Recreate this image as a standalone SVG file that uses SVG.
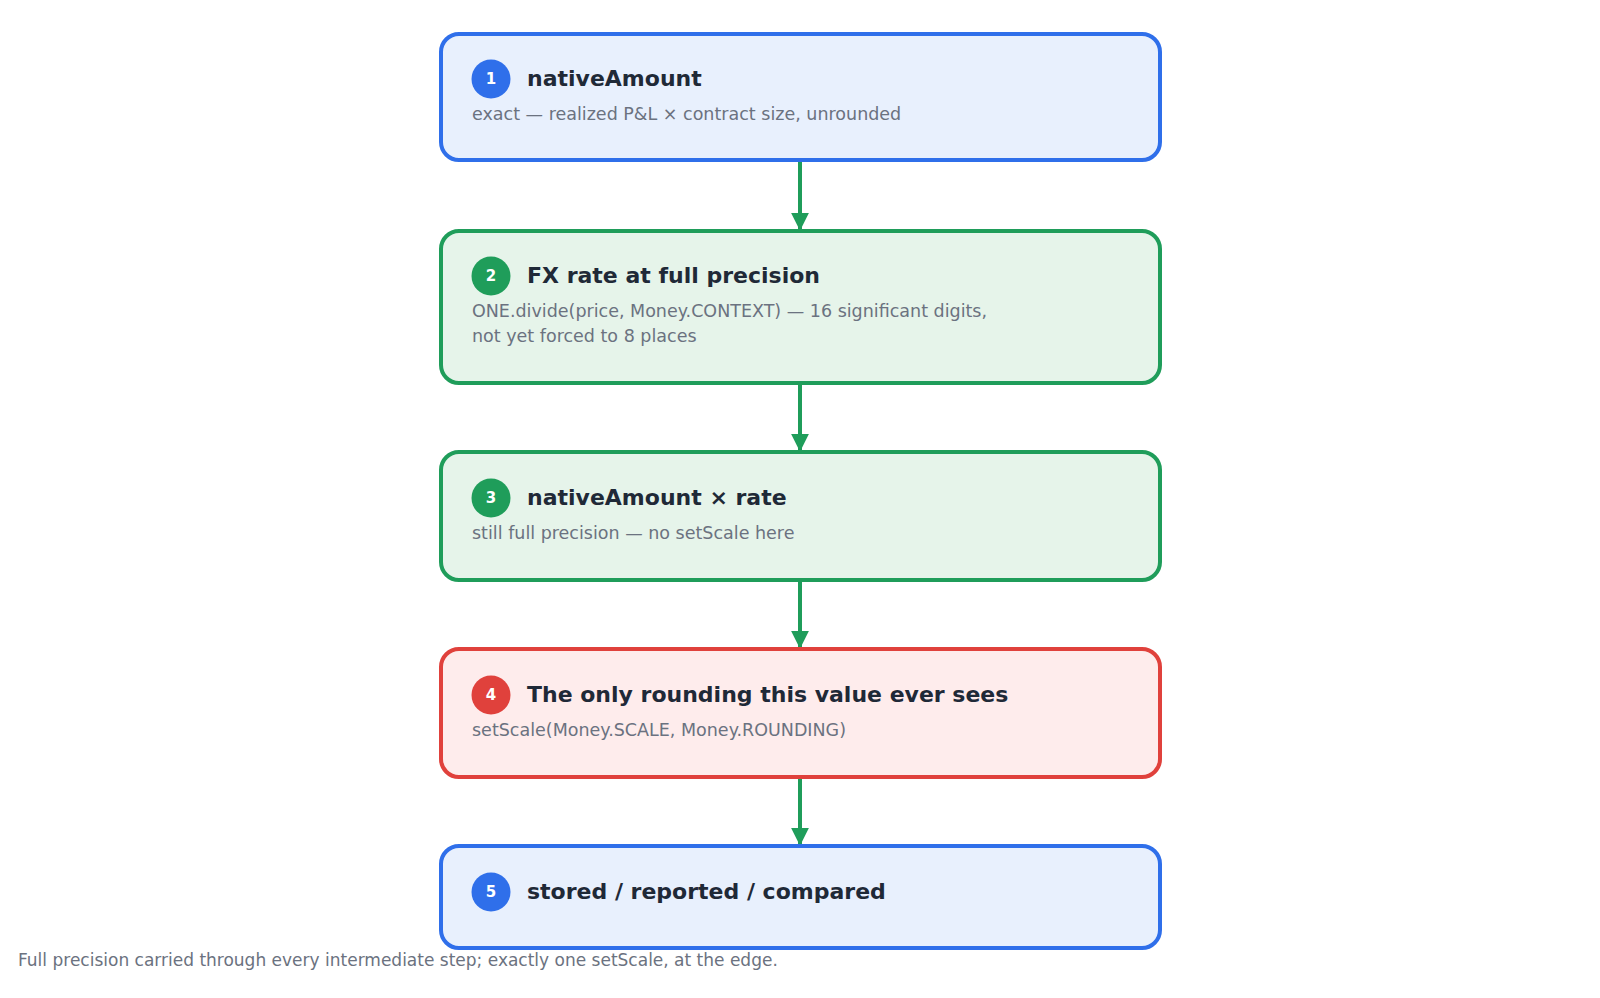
<svg xmlns="http://www.w3.org/2000/svg" width="1600" height="998" viewBox="0 0 1600 998">
<style>
.t{font-family:"DejaVu Sans",sans-serif;font-weight:bold;font-size:22px;fill:#1f2937}
.s{font-family:"DejaVu Sans",sans-serif;font-size:17.5px;fill:#6b7280}
.n{font-family:"DejaVu Sans",sans-serif;font-weight:bold;font-size:15px;fill:#fff;text-anchor:middle}
.blue rect{fill:#e8f0fd;stroke:#2f6fea;stroke-width:4}
.green rect{fill:#e6f4ea;stroke:#1f9d5a;stroke-width:4}
.red rect{fill:#feecec;stroke:#e0413c;stroke-width:4}
.blue circle{fill:#2f6fea}.green circle{fill:#1f9d5a}.red circle{fill:#e0413c}
.c{stroke:#1f9d5a;stroke-width:4;fill:none}
</style>
<defs><marker id="a" viewBox="0 0 10 10" refX="9" refY="5" markerWidth="4.5" markerHeight="4.5" orient="auto"><path d="M0,0L10,5L0,10z" fill="#1f9d5a"/></marker></defs>
<rect width="1600" height="998" fill="#fff"/>
<g id="connectors">
<line class="c" x1="800" y1="160" x2="800" y2="229" marker-end="url(#a)"/>
<line class="c" x1="800" y1="383" x2="800" y2="450" marker-end="url(#a)"/>
<line class="c" x1="800" y1="580" x2="800" y2="647" marker-end="url(#a)"/>
<line class="c" x1="800" y1="777" x2="800" y2="844" marker-end="url(#a)"/>
</g>
<g id="n1" class="blue"><rect x="441" y="34" width="719" height="126" rx="18"/><circle cx="491" cy="79" r="19.5"/><text class="n" x="491" y="84">1</text><text class="t" x="527" y="86">nativeAmount</text><text class="s" x="472" y="120">exact — realized P&amp;L × contract size, unrounded</text></g>
<g id="n2" class="green"><rect x="441" y="231" width="719" height="152" rx="18"/><circle cx="491" cy="276" r="19.5"/><text class="n" x="491" y="281">2</text><text class="t" x="527" y="283">FX rate at full precision</text><text class="s" x="472" y="317">ONE.divide(price, Money.CONTEXT) — 16 significant digits,</text><text class="s" x="472" y="342">not yet forced to 8 places</text></g>
<g id="n3" class="green"><rect x="441" y="452" width="719" height="128" rx="18"/><circle cx="491" cy="498" r="19.5"/><text class="n" x="491" y="503">3</text><text class="t" x="527" y="505">nativeAmount × rate</text><text class="s" x="472" y="539">still full precision — no setScale here</text></g>
<g id="n4" class="red"><rect x="441" y="649" width="719" height="128" rx="18"/><circle cx="491" cy="695" r="19.5"/><text class="n" x="491" y="700">4</text><text class="t" x="527" y="702">The only rounding this value ever sees</text><text class="s" x="472" y="736">setScale(Money.SCALE, Money.ROUNDING)</text></g>
<g id="n5" class="blue"><rect x="441" y="846" width="719" height="102" rx="18"/><circle cx="491" cy="892" r="19.5"/><text class="n" x="491" y="897">5</text><text class="t" x="527" y="899">stored / reported / compared</text></g>
<text class="s" x="18" y="966" style="font-size:17px">Full precision carried through every intermediate step; exactly one setScale, at the edge.</text>
</svg>
